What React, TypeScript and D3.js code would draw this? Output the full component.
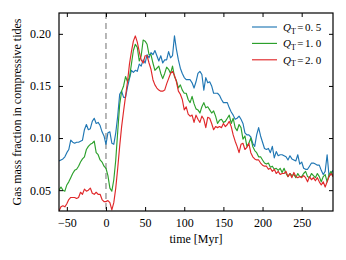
import React, { useRef, useEffect } from 'react'
import * as d3 from 'd3'

// time grid in Myr, one sample every 2.5 Myr
const time = d3.range(-60, 290.01, 2.5)

const gasQ05 = [
  0.078, 0.079, 0.080, 0.082, 0.086, 0.089, 0.098, 0.096, 0.095, 0.096, 0.096, 0.097, 0.098, 0.108, 0.113, 0.108,
  0.109, 0.116, 0.119, 0.114, 0.115, 0.112, 0.106, 0.102, 0.094, 0.105, 0.106, 0.095, 0.094, 0.105, 0.121, 0.142,
  0.145, 0.139, 0.139, 0.149, 0.157, 0.165, 0.163, 0.165, 0.164, 0.171, 0.169, 0.175, 0.172, 0.180, 0.177, 0.182,
  0.180, 0.184, 0.179, 0.174, 0.179, 0.172, 0.175, 0.175, 0.183, 0.177, 0.179, 0.198, 0.185, 0.175,
  0.167, 0.162, 0.158, 0.156, 0.156, 0.156, 0.153, 0.148, 0.154, 0.162, 0.164, 0.161, 0.146, 0.158, 0.153, 0.154,
  0.150, 0.143, 0.143, 0.143, 0.141, 0.137, 0.134, 0.134, 0.134, 0.129, 0.125, 0.122, 0.118, 0.119, 0.121, 0.118,
  0.114, 0.105, 0.103, 0.103, 0.101, 0.095, 0.092, 0.103, 0.110, 0.102, 0.096, 0.090, 0.089, 0.090, 0.086, 0.092,
  0.081, 0.087, 0.083, 0.084, 0.084, 0.083, 0.082, 0.079, 0.083, 0.080, 0.079, 0.078, 0.084, 0.075, 0.077, 0.071,
  0.070, 0.070, 0.073, 0.076, 0.076, 0.075, 0.074, 0.074, 0.069, 0.065, 0.068, 0.084, 0.063, 0.066, 0.069,
]

const gasQ10 = [
  0.050, 0.053, 0.050, 0.049, 0.055, 0.058, 0.062, 0.066, 0.069, 0.070, 0.073, 0.077, 0.080, 0.082, 0.089, 0.092,
  0.094, 0.095, 0.097, 0.086, 0.084, 0.079, 0.077, 0.073, 0.071, 0.064, 0.052, 0.049, 0.060, 0.079, 0.106, 0.132,
  0.145, 0.150, 0.159, 0.154, 0.158, 0.171, 0.184, 0.190, 0.187, 0.174, 0.179, 0.194, 0.193, 0.190, 0.180, 0.180,
  0.172, 0.165, 0.167, 0.169, 0.162, 0.157, 0.162, 0.168, 0.166, 0.162, 0.169, 0.159, 0.155, 0.148,
  0.151, 0.146, 0.143, 0.143, 0.137, 0.134, 0.140, 0.133, 0.128, 0.127, 0.124, 0.130, 0.134, 0.129, 0.130, 0.127,
  0.124, 0.126, 0.121, 0.114, 0.117, 0.118, 0.115, 0.116, 0.119, 0.122, 0.114, 0.119, 0.110, 0.107, 0.113, 0.110,
  0.099, 0.102, 0.092, 0.095, 0.100, 0.092, 0.088, 0.086, 0.082, 0.082, 0.079, 0.076, 0.075, 0.076, 0.072, 0.073,
  0.070, 0.071, 0.069, 0.071, 0.067, 0.071, 0.066, 0.063, 0.066, 0.064, 0.065, 0.062, 0.066, 0.063, 0.063, 0.066,
  0.068, 0.063, 0.062, 0.066, 0.064, 0.062, 0.066, 0.063, 0.058, 0.063, 0.065, 0.058, 0.065, 0.068, 0.063,
]

const gasQ20 = [
  0.030, 0.034, 0.035, 0.034, 0.037, 0.041, 0.043, 0.043, 0.043, 0.042, 0.043, 0.048, 0.046, 0.051, 0.049, 0.050,
  0.052, 0.047, 0.046, 0.048, 0.046, 0.046, 0.041, 0.039, 0.039, 0.040, 0.038, 0.031, 0.038, 0.052, 0.071, 0.092,
  0.111, 0.126, 0.140, 0.154, 0.171, 0.183, 0.193, 0.198, 0.192, 0.183, 0.175, 0.172, 0.179, 0.179, 0.172, 0.166,
  0.156, 0.151, 0.148, 0.146, 0.145, 0.145, 0.146, 0.152, 0.157, 0.162, 0.164, 0.160, 0.154, 0.145,
  0.142, 0.137, 0.127, 0.130, 0.123, 0.121, 0.122, 0.115, 0.122, 0.118, 0.115, 0.121, 0.118, 0.110, 0.120, 0.119,
  0.114, 0.108, 0.111, 0.110, 0.111, 0.110, 0.114, 0.111, 0.113, 0.116, 0.111, 0.103, 0.097, 0.092, 0.086, 0.094,
  0.095, 0.089, 0.091, 0.095, 0.086, 0.082, 0.080, 0.079, 0.079, 0.076, 0.074, 0.073, 0.073, 0.070, 0.071, 0.068,
  0.070, 0.066, 0.068, 0.065, 0.066, 0.066, 0.068, 0.063, 0.066, 0.062, 0.067, 0.063, 0.062, 0.063, 0.062, 0.064,
  0.062, 0.058, 0.063, 0.060, 0.062, 0.059, 0.062, 0.058, 0.055, 0.058, 0.053, 0.058, 0.063, 0.066, 0.063,
]

const seriesNames = ['0.5', '1.0', '2.0']
const seriesColors = ['#2077b4', '#2ca02c', '#e0282a']
const xTicks = [-50, 0, 50, 100, 150, 200, 250]
const yTicks = [0.05, 0.1, 0.15, 0.2]

const margin = { top: 13, right: 13, bottom: 49, left: 59 }
const W = 346
const H = 260
const width = W - margin.left - margin.right
const height = H - margin.top - margin.bottom
const serif = '"Liberation Serif", "DejaVu Serif", serif'

const GasChart = () => {
  const svgRef = useRef<SVGSVGElement>(null)

  useEffect(() => {
    const svg = d3.select(svgRef.current)
    svg.selectAll('*').remove()

    const x = d3.scaleLinear().domain([-60, 290]).range([0, width])
    const y = d3.scaleLinear().domain([0.03, 0.22]).range([height, 0])

    svg
      .append('defs')
      .append('clipPath')
      .attr('id', 'plot-clip')
      .append('rect')
      .attr('width', width)
      .attr('height', height)

    const g = svg.append('g').attr('transform', `translate(${margin.left},${margin.top})`)

    // dashed line at t = 0
    g.append('line')
      .attr('x1', x(0))
      .attr('x2', x(0))
      .attr('y1', 0)
      .attr('y2', height)
      .attr('stroke', '#999')
      .attr('stroke-width', 1.4)
      .attr('stroke-dasharray', '6,4')

    const all = [gasQ05, gasQ10, gasQ20]
    const line = d3
      .line<number>()
      .x((_, i) => x(time[i]))
      .y((d) => y(d))

    const lines = g.append('g').attr('clip-path', 'url(#plot-clip)')
    all.forEach((vals, k) => {
      lines
        .append('path')
        .datum(vals)
        .attr('d', line)
        .attr('fill', 'none')
        .attr('stroke', seriesColors[k])
        .attr('stroke-width', 1.15)
        .attr('stroke-linejoin', 'round')
    })

    // axes with inward ticks on all four sides
    const fmtY = d3.format('.2f')
    const bottom = g
      .append('g')
      .attr('transform', `translate(0,${height})`)
      .call(d3.axisBottom(x).tickValues(xTicks).tickSizeInner(-4).tickSizeOuter(0).tickPadding(7).tickFormat((d) => String(d).replace('-', '\u2212')))
    const top = g.append('g').call(d3.axisTop(x).tickValues(xTicks).tickSizeInner(-4).tickSizeOuter(0).tickFormat(() => ''))
    const left = g
      .append('g')
      .call(d3.axisLeft(y).tickValues(yTicks).tickSizeInner(-4).tickSizeOuter(0).tickPadding(8).tickFormat((d) => fmtY(d as number)))
    const right = g
      .append('g')
      .attr('transform', `translate(${width},0)`)
      .call(d3.axisRight(y).tickValues(yTicks).tickSizeInner(-4).tickSizeOuter(0).tickFormat(() => ''))

    ;[bottom, top, left, right].forEach((a) => {
      a.select('.domain').remove()
      a.selectAll('line').attr('stroke', '#000').attr('stroke-width', 1)
      a.selectAll('text').attr('font-family', serif).attr('font-size', 12).attr('fill', '#000')
    })

    g.append('rect')
      .attr('width', width)
      .attr('height', height)
      .attr('fill', 'none')
      .attr('stroke', '#000')
      .attr('stroke-width', 1.2)

    // axis labels
    svg
      .append('text')
      .attr('x', margin.left + width / 2)
      .attr('y', 243)
      .attr('text-anchor', 'middle')
      .attr('font-family', serif)
      .attr('font-size', 12)
      .text('time [Myr]')

    svg
      .append('text')
      .attr('transform', `translate(21,${margin.top + height / 2}) rotate(-90)`)
      .attr('text-anchor', 'middle')
      .attr('font-family', serif)
      .attr('font-size', 12)
      .text('Gas mass fraction in compressive tides')

    // legend
    const legend = svg.append('g').attr('transform', 'translate(252,27)')
    seriesNames.forEach((name, k) => {
      const row = legend.append('g').attr('transform', `translate(0,${k * 16.4})`)
      row.append('line').attr('x1', 0).attr('x2', 25).attr('stroke', seriesColors[k]).attr('stroke-width', 1.15)
      const t = row
        .append('text')
        .attr('x', 31)
        .attr('y', 4)
        .attr('font-family', serif)
        .attr('font-size', 11)
      t.append('tspan').attr('font-style', 'italic').text('Q')
      t.append('tspan').attr('font-size', 8).attr('dy', 2.5).text('T')
      t.append('tspan').attr('dy', -2.5).attr('dx', 1.5).text('=')
      t.append('tspan').attr('dx', 1.5).text(name.split('.')[0] + '.')
      t.append('tspan').attr('dx', 2.5).text(name.split('.')[1])
    })
  }, [])

  return <svg ref={svgRef} width={W} height={H} style={{ display: 'block' }} />
}

export default function App() {
  return (
    <div style={{ margin: -8 }}>
      <GasChart />
    </div>
  )
}
